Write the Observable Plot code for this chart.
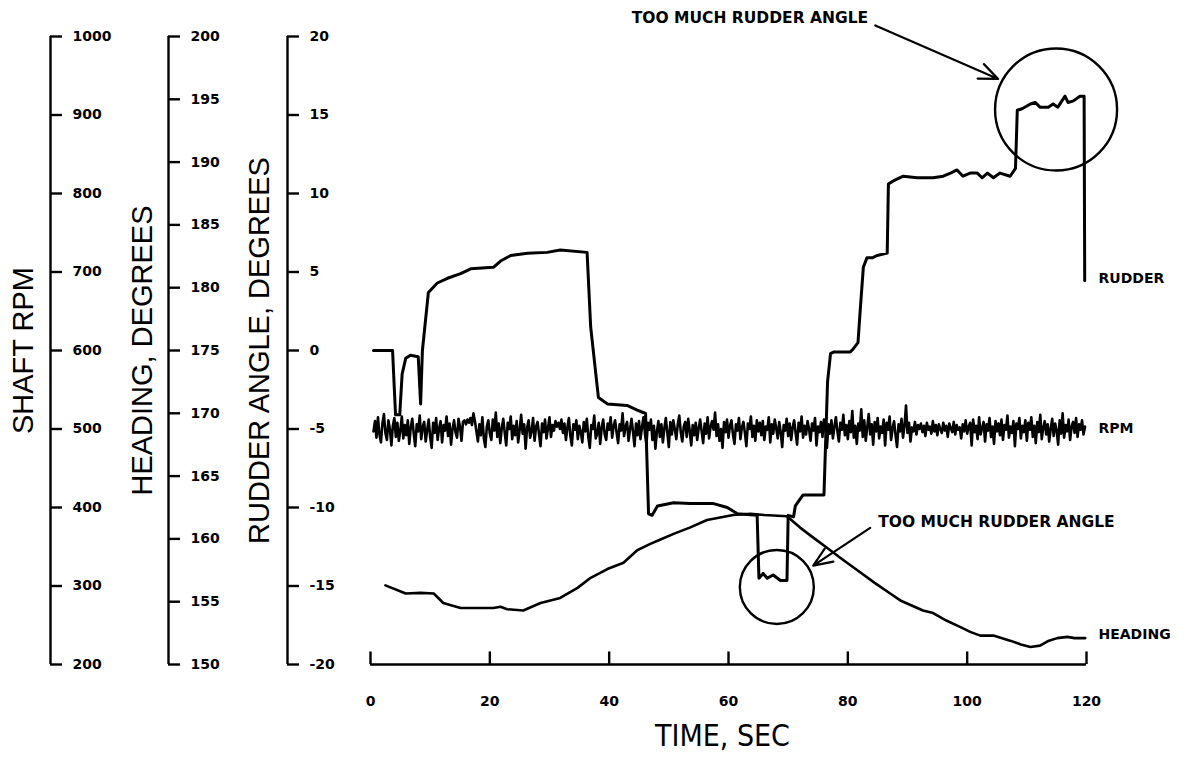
<!DOCTYPE html>
<html><head><meta charset="utf-8">
<script src="https://cdn.jsdelivr.net/npm/d3@7"></script>
<script src="https://cdn.jsdelivr.net/npm/@observablehq/plot@0.6"></script>
<style>
body{margin:0;background:#fff}
#chart svg{display:block;background:#fff}
#chart g[aria-label="tick labels"] text{letter-spacing:1.4px}
#chart g[aria-label="notes"] text{letter-spacing:2px}
#chart g[aria-label="series labels"] text{letter-spacing:1.2px}
</style>
</head><body><div id="chart"></div>
<script>
// ---------- DATA ----------
const xTicks = [0, 20, 40, 60, 80, 100, 120];
const rudderTicks = [20, 15, 10, 5, 0, -5, -10, -15, -20];
const headingTicks = [200, 195, 190, 185, 180, 175, 170, 165, 160, 155, 150];
const rpmTicks = [1000, 900, 800, 700, 600, 500, 400, 300, 200];

const rudderTime = [0.5, 3.7, 4.0, 4.2, 4.9, 5.3, 5.9, 6.7, 8.0, 8.4, 8.7, 9.7, 11.2, 12.9, 15.1, 16.8, 20.6, 21.8, 23.5, 26.3, 29.6, 31.8, 36.3, 36.9, 38.2, 39.7, 43.0, 44.7, 45.7, 46.1, 46.6, 47.2, 48.1, 50.8, 53.6, 57.5, 59.8, 61.5, 64.8, 65.1, 65.8, 66.5, 67.5, 68.7, 69.8, 70.0, 70.9, 71.2, 72.5, 75.9, 76.0, 76.6, 77.1, 77.6, 80.4, 80.9, 81.7, 82.1, 82.6, 83.2, 84.1, 84.9, 86.6, 86.8, 87.6, 89.3, 91.6, 94.3, 96.0, 97.2, 98.3, 99.3, 100.5, 101.7, 102.5, 103.4, 104.4, 105.5, 107.2, 108.1, 108.4, 109.2, 110.6, 111.4, 112.2, 113.6, 114.4, 115.2, 116.4, 116.9, 117.8, 118.9, 119.6, 119.7];
const rudderAngle = [0, 0, -2.5, -4.1, -4.1, -1.5, -0.5, -0.3, -0.4, -3.4, 0, 3.7, 4.3, 4.6, 4.9, 5.2, 5.3, 5.7, 6.05, 6.2, 6.25, 6.4, 6.25, 1.5, -3.0, -3.4, -3.5, -3.8, -3.95, -4.0, -10.4, -10.5, -9.9, -9.7, -9.75, -9.75, -10.0, -10.4, -10.5, -14.5, -14.2, -14.5, -14.3, -14.65, -14.65, -10.5, -10.6, -9.9, -9.2, -9.2, -9.2, -2.0, -0.2, -0.1, -0.1, 0.1, 0.5, 2.7, 5.3, 5.9, 5.9, 6.05, 6.2, 10.6, 10.8, 11.1, 11.0, 11.0, 11.1, 11.3, 11.5, 11.1, 11.3, 11.3, 11.0, 11.3, 11.0, 11.3, 11.1, 11.6, 15.3, 15.4, 15.7, 15.8, 15.5, 15.5, 15.7, 15.5, 16.2, 15.8, 15.9, 16.2, 16.2, 4.45];

const headingTime = [2.5, 5.9, 8.4, 10.6, 12.2, 15.1, 16.8, 20.6, 21.8, 22.9, 25.6, 28.5, 31.8, 34.7, 36.9, 39.7, 42.4, 44.7, 46.9, 48.6, 50.8, 53.5, 56.4, 60.8, 63.7, 66.0, 69.8, 72.0, 74.2, 76.5, 79.0, 81.6, 84.5, 87.1, 88.8, 92.6, 94.3, 96.5, 98.8, 100.5, 102.2, 104.4, 107.2, 109.0, 110.6, 112.2, 113.7, 115.1, 116.8, 118.0, 119.8];
const headingDeg = [156.3, 155.65, 155.7, 155.65, 154.9, 154.5, 154.5, 154.5, 154.6, 154.4, 154.3, 154.9, 155.3, 156.1, 156.9, 157.6, 158.1, 159.1, 159.6, 159.95, 160.4, 160.9, 161.5, 161.9, 162.0, 161.9, 161.8, 160.9, 160.1, 159.3, 158.4, 157.5, 156.5, 155.65, 155.1, 154.3, 154.1, 153.5, 153.0, 152.6, 152.3, 152.3, 151.9, 151.6, 151.4, 151.5, 151.9, 152.1, 152.2, 152.1, 152.1];

// shaft rpm, one reading every 0.25 s starting at 0.5 s (each row = 5 s)
const rpmStart = 0.5, rpmInterval = 0.25;
const shaftRpm = [
 497, 510, 489, 515, 493, 483, 507, 519, 495, 486, 511, 500, 479, 504, 514, 490, 508, 485, 498, 516,
 488, 505, 492, 511, 481, 502, 513, 494, 478, 506, 497, 517, 487, 503, 509, 484, 499, 512, 490, 476,
 508, 495, 514, 486, 501, 510, 483, 505, 498, 516, 491, 507, 480, 500, 511, 496, 489, 513, 503, 485,
 509, 511, 506, 512, 508, 514, 505, 520, 510, 497, 484, 506, 492, 515, 488, 477, 503, 511, 494, 486,
 512, 498, 521, 490, 507, 482, 501, 513, 495, 479, 508, 500, 516, 487, 504, 492, 510, 483, 499, 518,
 494, 506, 475, 502, 511, 489, 497, 514, 485, 503, 509, 493, 478, 507, 496, 512, 488, 501, 515, 490,
 505, 498, 510, 503, 508, 500, 512, 495, 507, 486, 502, 514, 491, 479, 506, 499, 511, 487, 504, 496,
 483, 509, 497, 513, 490, 476, 505, 500, 517, 488, 494, 508, 481, 502, 512, 493, 486, 507, 499, 515,
 489, 504, 511, 495, 482, 506, 498, 520, 491, 503, 509, 485, 500, 513, 496, 478, 507, 492, 510, 487,
 502, 515, 494, 480, 508, 499, 512, 486, 504, 475, 497, 510, 490, 506, 483, 501, 514, 495, 477, 509,
 493, 511, 500, 487, 506, 517, 496, 484, 503, 509, 490, 513, 498, 479, 505, 492, 508, 486, 501, 512,
 497, 482, 507, 494, 515, 488, 503, 510, 499, 521, 491, 506, 485, 500, 476, 509, 496, 512, 489, 504,
 511, 493, 481, 506, 498, 514, 487, 502, 509, 495, 478, 507, 500, 516, 490, 504, 485, 511, 497, 508,
 492, 510, 486, 503, 499, 515, 483, 506, 494, 512, 501, 488, 509, 496, 477, 505, 498, 513, 491, 507,
 486, 502, 511, 495, 480, 508, 497, 516, 489, 504, 493, 510, 500, 485, 507, 498, 514, 479, 503, 496,
 509, 490, 512, 501, 476, 506, 494, 511, 488, 503, 515, 497, 484, 508, 499, 518, 492, 505, 487, 510,
 496, 523, 489, 504, 481, 507, 498, 525, 490, 511, 485, 502, 519, 493, 506, 480, 509, 497, 514, 488,
 503, 495, 512, 479, 508, 499, 516, 486, 501, 510, 492, 477, 506, 497, 513, 489, 504, 530, 495, 508,
 484, 502, 497, 509, 493, 505, 500, 507, 496, 504, 491, 508, 499, 503, 494, 510, 497, 505, 492, 506,
 500, 495, 508, 498, 504, 490, 507, 501, 496, 509, 493, 505, 499, 502, 488, 506, 497, 511, 494, 503,
 508, 479, 512, 496, 504, 487, 515, 493, 501, 509, 484, 506, 498, 514, 490, 503, 481, 510, 497, 507,
 492, 512, 486, 505, 499, 517, 489, 503, 495, 510, 478, 507, 500, 514, 488, 504, 496, 511, 485, 508,
 499, 515, 490, 504, 482, 509, 496, 518, 487, 502, 510, 493, 506, 484, 500, 513, 491, 507, 498, 480,
 511, 494, 520, 489, 505, 497, 512, 486, 503, 509, 495, 514, 490, 506, 499, 511, 493, 503
];

const seriesLabels = ["RUDDER", "RPM", "HEADING"];
const seriesLabelY = [4.6, -5.0, -18.1];   // in rudder-angle units, at the right-hand end
const noteText = ["TOO MUCH RUDDER ANGLE", "TOO MUCH RUDDER ANGLE"];
const noteX = [83.4, 85.1];
const noteY = [21.15, -10.9];
const noteAnchor = ["end", "start"];
const arrowFrom = [[84.6, 20.7], [83.75, -11.3]];
const arrowTo = [[105.2, 17.3], [74.2, -13.7]];
const circleCenter = [[114.9, 15.35], [68.1, -15.06]];
const circleRadius = [61, 37];

// ---------- LAYOUT ----------
const W = 1184, H = 757;
const M = {top: 36, right: 98, bottom: 93, left: 370};
const pxPerSec = (W - M.left - M.right) / 120;
const px = p => (p - M.left) / pxPerSec;         // page pixel -> time units (for off-frame furniture)
const headingToV = h => (h - 175) * 0.8;
const rpmToV = r => (r - 600) / 20;

const rudder = rudderTime.map((t, i) => ({t, v: rudderAngle[i]}));
const heading = headingTime.map((t, i) => ({t, v: headingToV(headingDeg[i])}));
const rpm = shaftRpm.map((r, i) => ({t: rpmStart + i * rpmInterval, v: rpmToV(r)}));

const tickFont = {fontFamily: "DejaVu Sans", fontWeight: "bold", fontSize: 14, fill: "black"};
const noteFont = {fontFamily: "DejaVu Sans", fontWeight: "bold", fontSize: 15.5, fill: "black"};
const titleFont = {fontFamily: "Liberation Sans", fontSize: 29, fill: "black"};

const leftAxes = [
  {ticks: rpmTicks, toV: rpmToV, axisPx: 50, titlePx: 23, title: "SHAFT RPM"},
  {ticks: headingTicks, toV: headingToV, axisPx: 168, titlePx: 142, title: "HEADING, DEGREES"},
  {ticks: rudderTicks, toV: v => v, axisPx: 287, titlePx: 259, title: "RUDDER ANGLE, DEGREES"}
];

const marks = [];
for (const a of leftAxes) {
  marks.push(Plot.ruleX([px(a.axisPx)], {y1: -20, y2: 20, strokeWidth: 2.4}));
  marks.push(Plot.ruleY(a.ticks, {y: a.toV, x1: px(a.axisPx), x2: px(a.axisPx + 12), strokeWidth: 2.4}));
  marks.push(Plot.text(a.ticks, {x: px(a.axisPx), dx: 22, y: a.toV, text: d => String(d), textAnchor: "start", ariaLabel: "tick labels", ...tickFont}));
  marks.push(Plot.text([a.title], {x: px(a.titlePx), y: 0, rotate: -90, text: d => d, textAnchor: "middle", ...titleFont}));
}
// x axis
marks.push(Plot.ruleY([-20], {x1: 0, x2: 120, strokeWidth: 2.4}));
marks.push(Plot.ruleX(xTicks, {y1: -20, y2: -19.2, strokeWidth: 2.4}));
marks.push(Plot.text(xTicks, {x: d => d, y: -20, dy: 37, text: d => String(d), ariaLabel: "tick labels", ...tickFont}));
marks.push(Plot.text(["TIME, SEC"], {x: 60, y: -20, dy: 72, dx: -6, text: d => d, fontFamily: "DejaVu Sans Condensed", fontSize: 30, fill: "black"}));

// series
marks.push(Plot.line(rpm, {x: "t", y: "v", stroke: "black", strokeWidth: 2.6, strokeLinejoin: "round"}));
marks.push(Plot.line(heading, {x: "t", y: "v", stroke: "black", strokeWidth: 2.6, strokeLinejoin: "round"}));
marks.push(Plot.line(rudder, {x: "t", y: "v", stroke: "black", strokeWidth: 3, strokeLinejoin: "round"}));
marks.push(Plot.text(seriesLabels, {x: 120, dx: 12, y: (d, i) => seriesLabelY[i], text: d => d, textAnchor: "start", ariaLabel: "series labels", ...tickFont}));

// annotations
for (const anchor of ["start", "end"]) {
  const idx = noteText.map((d, i) => i).filter(i => noteAnchor[i] === anchor);
  marks.push(Plot.text(idx, {x: i => noteX[i], y: i => noteY[i], text: i => noteText[i], textAnchor: anchor, ariaLabel: "notes", ...noteFont}));
}
arrowFrom.forEach((f, i) => {
  marks.push(Plot.arrow([0], {x1: f[0], y1: f[1], x2: arrowTo[i][0], y2: arrowTo[i][1], stroke: "black", strokeWidth: 2.2, headLength: 14, headAngle: 45}));
});
circleCenter.forEach((c, i) => {
  marks.push(Plot.dot([0], {x: c[0], y: c[1], r: circleRadius[i], stroke: "black", strokeWidth: 2.4, fill: "none"}));
});

const chart = Plot.plot({
  width: W, height: H,
  marginTop: M.top, marginRight: M.right, marginBottom: M.bottom, marginLeft: M.left,
  x: {domain: [0, 120], axis: null},
  y: {domain: [-20, 20], axis: null},
  style: {background: "white", color: "black"},
  marks
});
document.getElementById("chart").append(chart);
</script>
</body></html>
